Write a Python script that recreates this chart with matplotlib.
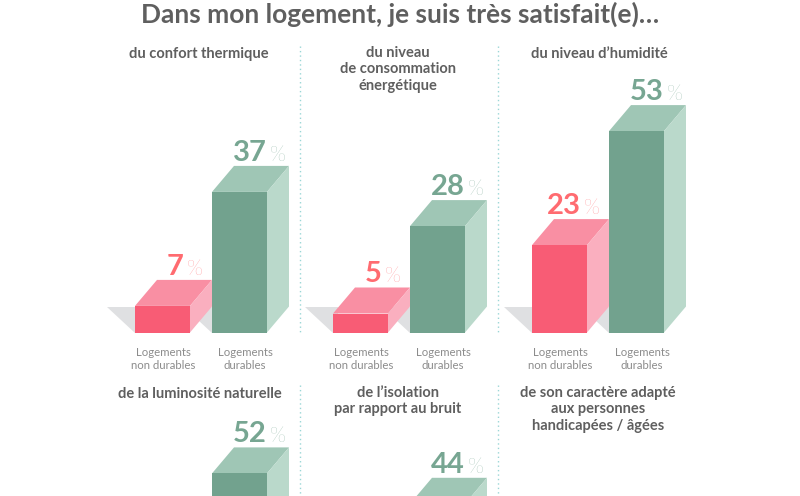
import matplotlib
matplotlib.use("Agg")
import matplotlib.pyplot as plt
from matplotlib.patches import Polygon

plt.rcParams["font.family"] = ["Lato", "DejaVu Sans"]

# ── Data ──────────────────────────────────────────────────────────────────────

chart_title = "Dans mon logement, je suis très satisfait(e)…"
panel_titles = [
    "du confort thermique",
    "du niveau\nde consommation\nénergétique",
    "du niveau d’humidité",
    "de la luminosité naturelle",
    "de l’isolation\npar rapport au bruit",
    "de son caractère adapté\naux personnes\nhandicapées / âgées",
]
group_labels = ["Logements\nnon durables", "Logements\ndurables"]
non_durable = [7, 5, 23]
durable = [37, 28, 53, 52, 44]

# ── Colours ───────────────────────────────────────────────────────────────────

PINK = ("#F85C75", "#F98FA3", "#FAAFBF", "#FF6B70")   # front, top, side, label
GREEN = ("#72A28E", "#9FC6B5", "#BAD9CB", "#77A692")
SHADOW = "#DFE0E2"
TITLE_COL = "#5F5F5F"
LABEL_COL = "#8C8C8C"
DOT_COL = "#9AD6D6"

# ── Layout (pixels) ───────────────────────────────────────────────────────────

PX_PER_POINT = 3.8
BAR_W = 55
DEPTH_X, DEPTH_Y = 22, 26
ROW_BASE = [332.5, 671]
PINK_X = [135, 333, 532]
GREEN_X = [212, 410, 609, 212, 410]
TITLE_X = [199, 398, 599, 200, 398, 598]
TITLE_Y = [54, 54, 54, 394, 394, 394]

fig = plt.figure(figsize=(8, 4.96), dpi=100)
ax = fig.add_axes([0, 0, 1, 1])
ax.set_xlim(0, 800)
ax.set_ylim(496, 0)
ax.axis("off")


def draw_shadow(x, base):
    ax.add_patch(Polygon([(x - 28, base - DEPTH_Y), (x + 5, base - DEPTH_Y), (x + 5, base), (x, base)],
                         closed=True, color=SHADOW, lw=0, zorder=1))


def draw_bar(x, base, value, colors, zorder):
    """One box: front through ax.bar, top and side as polygons."""
    h = value * PX_PER_POINT
    top = base - h
    right = x + BAR_W
    ax.bar(x + BAR_W / 2, -h, BAR_W, bottom=base, color=colors[0], lw=0, zorder=zorder + 0.2)
    ax.add_patch(Polygon([(x, top), (right, top), (right + DEPTH_X, top - DEPTH_Y), (x + DEPTH_X, top - DEPTH_Y)],
                         closed=True, color=colors[1], lw=0, zorder=zorder))
    ax.add_patch(Polygon([(right, top), (right + DEPTH_X, top - DEPTH_Y), (right + DEPTH_X, base - DEPTH_Y), (right, base)],
                         closed=True, color=colors[2], lw=0, zorder=zorder))


def draw_value(x, base, value, color, back_off):
    seam = x + BAR_W + DEPTH_X - back_off
    y = base - value * PX_PER_POINT - DEPTH_Y - 5
    ax.text(seam - 1.5, y, str(value), ha="right", va="baseline", fontsize=21,
            fontweight="bold", color=color, zorder=6)
    ax.text(seam + 1.5, y, "%", ha="left", va="baseline", fontsize=15,
            fontweight="light", color=color, zorder=6)


# ── Bars ──────────────────────────────────────────────────────────────────────

for i, value in enumerate(durable):
    row = i // 3
    base = ROW_BASE[row]
    draw_shadow(GREEN_X[i], base)
    draw_bar(GREEN_X[i], base, value, GREEN, 2)
    draw_value(GREEN_X[i], base, value, GREEN[3], 21)
    if row == 0:
        ax.text(GREEN_X[i] + 33, 359, group_labels[1], ha="center", va="center",
                fontsize=8.2, color=LABEL_COL, linespacing=1.15)

for i, value in enumerate(non_durable):
    base = ROW_BASE[0]
    draw_shadow(PINK_X[i], base)
    draw_bar(PINK_X[i], base, value, PINK, 3)
    draw_value(PINK_X[i], base, value, PINK[3], 27)
    ax.text(PINK_X[i] + 28, 359, group_labels[0], ha="center", va="center",
            fontsize=8.2, color=LABEL_COL, linespacing=1.15)

# ── Separators and text ───────────────────────────────────────────────────────

for x in (300, 498):
    ax.plot([x, x], [46, 333], color=DOT_COL, lw=1, ls=(0, (1, 2.2)), zorder=0)
    ax.plot([x, x], [385, 496], color=DOT_COL, lw=1, ls=(0, (1, 2.2)), zorder=0)

for x, y, label in zip(TITLE_X, TITLE_Y, panel_titles):
    ax.text(x, y, label, ha="center", va="top" if "\n" in label else "center",
            fontsize=10.5, fontweight="bold", color=TITLE_COL, linespacing=1.22,
            position=(x, y - 8 if "\n" in label else y))

ax.text(400, 14, chart_title, ha="center", va="center", fontsize=19,
        fontweight="bold", color=TITLE_COL)

fig.savefig("out.png", dpi=100)
